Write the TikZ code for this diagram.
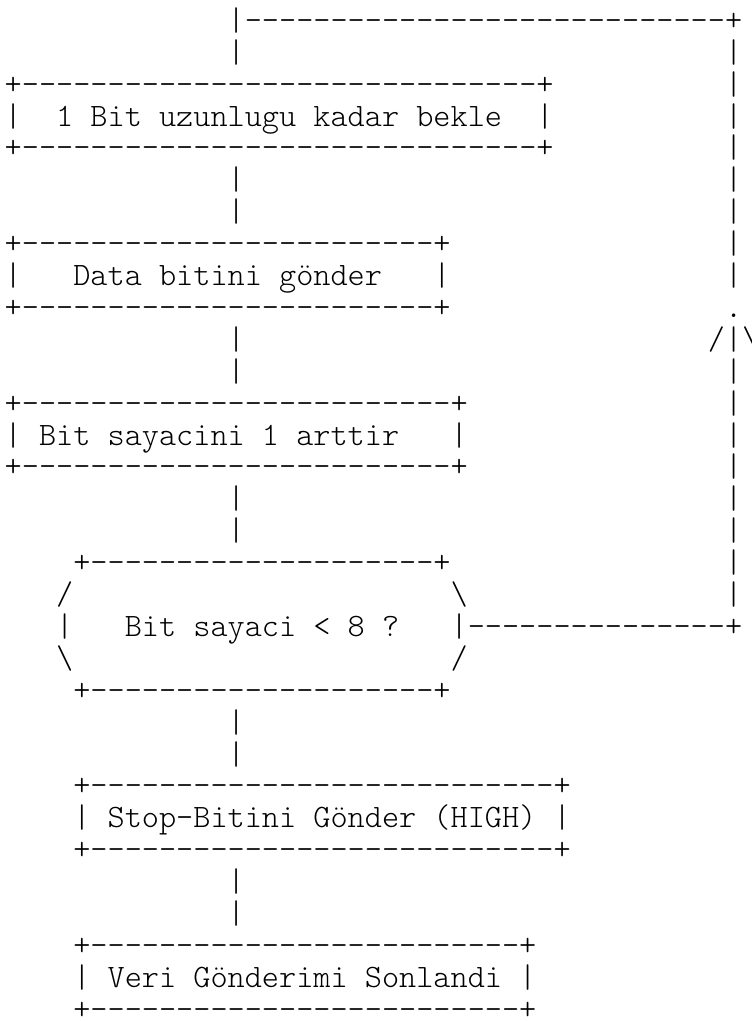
\documentclass[tikz,border=0pt]{standalone}
\newcommand\ascfont{\fontfamily{lmtt}\fontseries{l}\fontshape{n}\fontsize{32.67}{32}\selectfont\frenchspacing}
\newcommand\dd[1]{\foreach \k in {1,...,#1}{-\kern0pt}}
\tikzset{
  asc/.style={anchor=base west, inner sep=0pt, outer sep=0pt, font=\ascfont, text=black},
  gc/.style 2 args={at={({4.7+17.15*#1},{30.3+31.9*#2})}}
}
\begin{document}
\begin{tikzpicture}[x=1pt,y=-1pt]
\fill[white] (0,0) rectangle (752,1021);
\useasboundingbox (0,0) rectangle (752,1021);
% row 0-1: loop back line
\node[asc,gc={13}{0}] (r0) {|\dd{28}+};
\node[asc,gc={13}{1}] (r1a) {|};
\node[asc,gc={42}{1}] (r1b) {|};
% box 1
\node[asc,gc={0}{2}] (b1t) {+\dd{30}+};
\node[asc,gc={42}{2}] (r2b) {|};
\node[asc,gc={0}{3}] (b1l) {|};
\node[asc,gc={3}{3}] (b1) {1 Bit uzunlugu kadar bekle};
\node[asc,gc={31}{3}] (b1r) {|};
\node[asc,gc={42}{3}] (r3b) {|};
\node[asc,gc={0}{4}] (b1b) {+\dd{30}+};
\node[asc,gc={42}{4}] (r4b) {|};
\node[asc,gc={13}{5}] (r5a) {|};
\node[asc,gc={42}{5}] (r5b) {|};
\node[asc,gc={13}{6}] (r6a) {|};
\node[asc,gc={42}{6}] (r6b) {|};
% box 2
\node[asc,gc={0}{7}] (b2t) {+\dd{24}+};
\node[asc,gc={42}{7}] (r7b) {|};
\node[asc,gc={0}{8}] (b2l) {|};
\node[asc,gc={4}{8}] (b2) {Data bitini gönder};
\node[asc,gc={25}{8}] (b2r) {|};
\node[asc,gc={42}{8}] (r8b) {|};
\node[asc,gc={0}{9}] (b2b) {+\dd{24}+};
\node[asc,gc={42}{9}] (r9b) {.};
\node[asc,gc={13}{10}] (r10a) {|};
\node[asc,gc={41}{10}] (arr) {/|\textbackslash};
\node[asc,gc={13}{11}] (r11a) {|};
\node[asc,gc={42}{11}] (r11b) {|};
% box 3
\node[asc,gc={0}{12}] (b3t) {+\dd{25}+};
\node[asc,gc={42}{12}] (r12b) {|};
\node[asc,gc={0}{13}] (b3l) {|};
\node[asc,gc={2}{13}] (b3) {Bit sayacini 1 arttir};
\node[asc,gc={26}{13}] (b3r) {|};
\node[asc,gc={42}{13}] (r13b) {|};
\node[asc,gc={0}{14}] (b3b) {+\dd{25}+};
\node[asc,gc={42}{14}] (r14b) {|};
\node[asc,gc={13}{15}] (r15a) {|};
\node[asc,gc={42}{15}] (r15b) {|};
\node[asc,gc={13}{16}] (r16a) {|};
\node[asc,gc={42}{16}] (r16b) {|};
% decision
\node[asc,gc={4}{17}] (dt) {+\dd{20}+};
\node[asc,gc={42}{17}] (r17b) {|};
\node[asc,gc={3}{18}] (dtl) {/};
\node[asc,gc={26}{18}] (dtr) {\textbackslash};
\node[asc,gc={42}{18}] (r18b) {|};
\node[asc,gc={3}{19}] (dl) {|};
\node[asc,gc={7}{19}] (d) {Bit sayaci < 8 ?};
\node[asc,gc={26}{19}] (dr) {|\dd{15}+};
\node[asc,gc={3}{20}] (dbl) {\textbackslash};
\node[asc,gc={26}{20}] (dbr) {/};
\node[asc,gc={4}{21}] (db) {+\dd{20}+};
\node[asc,gc={13}{22}] (r22a) {|};
\node[asc,gc={13}{23}] (r23a) {|};
% box 4
\node[asc,gc={4}{24}] (b4t) {+\dd{27}+};
\node[asc,gc={4}{25}] (b4l) {|};
\node[asc,gc={6}{25}] (b4) {Stop-Bitini Gönder (HIGH)};
\node[asc,gc={32}{25}] (b4r) {|};
\node[asc,gc={4}{26}] (b4b) {+\dd{27}+};
\node[asc,gc={13}{27}] (r27a) {|};
\node[asc,gc={13}{28}] (r28a) {|};
% box 5
\node[asc,gc={4}{29}] (b5t) {+\dd{25}+};
\node[asc,gc={4}{30}] (b5l) {|};
\node[asc,gc={6}{30}] (b5) {Veri Gönderimi Sonlandi};
\node[asc,gc={30}{30}] (b5r) {|};
\node[asc,gc={4}{31}] (b5b) {+\dd{25}+};
\end{tikzpicture}
\end{document}
